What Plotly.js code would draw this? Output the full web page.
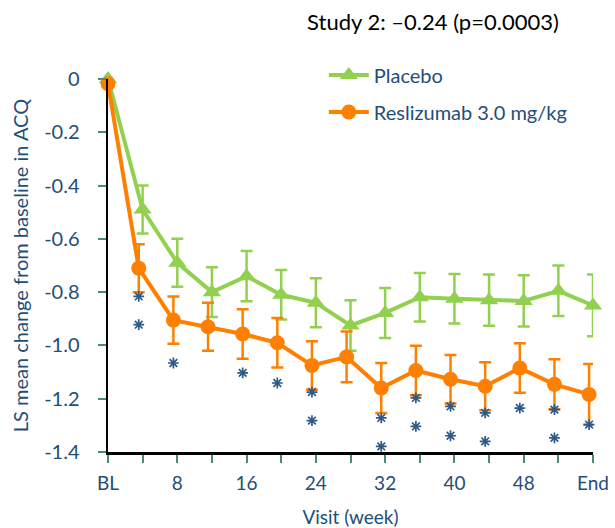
<!DOCTYPE html>
<html>
<head>
<meta charset="utf-8">
<script src="https://cdn.plot.ly/plotly-3.0.1.min.js"></script>
<style>html,body{margin:0;padding:0;background:#fff;} #chart{width:615px;height:528px;}</style>
</head>
<body>
<div id="chart"></div>
<script>
// Visit weeks (BL = 0, End = 56)
var weeks = [0, 4, 8, 12, 16, 20, 24, 28, 32, 36, 40, 44, 48, 52, 56];
var placebo = [0, -0.49, -0.69, -0.80, -0.74, -0.81, -0.84, -0.925, -0.878, -0.819, -0.825, -0.83, -0.833, -0.795, -0.85];
var placeboErr = [0, 0.09, 0.09, 0.093, 0.094, 0.093, 0.092, 0.095, 0.094, 0.091, 0.093, 0.096, 0.096, 0.095, 0.116];
var reslizumab = [-0.018, -0.71, -0.905, -0.93, -0.957, -0.99, -1.075, -1.043, -1.16, -1.094, -1.127, -1.153, -1.085, -1.146, -1.184];
var reslizumabErr = [0, 0.09, 0.089, 0.09, 0.093, 0.093, 0.091, 0.095, 0.094, 0.093, 0.091, 0.09, 0.093, 0.094, 0.114];
// significance asterisks
var starWeeks = [4, 4, 8, 16, 20, 24, 24, 32, 32, 36, 36, 40, 40, 44, 44, 48, 52, 52, 56, 56];
var starVals = [-0.816, -0.922, -1.066, -1.103, -1.141, -1.175, -1.282, -1.272, -1.379, -1.197, -1.304, -1.229, -1.339, -1.253, -1.36, -1.235, -1.241, -1.347, -1.297, -1.41];
var xTickVals = [0, 4, 8, 12, 16, 20, 24, 28, 32, 36, 40, 44, 48, 52, 56];
var xTickText = ["BL", "", "8", "", "16", "", "24", "", "32", "", "40", "", "48", "", "End"];
var yTickVals = [0, -0.2, -0.4, -0.6, -0.8, -1.0, -1.2, -1.4];
var yTickText = ["0", "-0.2", "-0.4", "-0.6", "-0.8", "-1.0", "-1.2", "-1.4"];
var seriesNames = ["Placebo", "Reslizumab 3.0 mg/kg"];
var titleText = "Study 2: \u20130.24 (p=0.0003)";

var shift = 0.45; // reslizumab points drawn slightly left of the visit tick
var reslX = weeks.map(function (w) { return w === 0 ? 0 : w - shift; });
var starX = starWeeks.map(function (w) { return w - shift; });

var textColor = '#1f4e79';
var green = '#92d050';
var orange = '#ff8000';
var starColor = '#2e5a88';
var font = 'Lato, "Open Sans", sans-serif';

var traces = [
  {
    x: weeks, y: placebo, name: seriesNames[0], type: 'scatter', mode: 'lines+markers',
    legendgroup: 'a', cliponaxis: false,
    line: {color: green, width: 4},
    marker: {symbol: 'triangle-up', size: 16, color: green},
    error_y: {type: 'data', array: placeboErr, visible: true, color: green, thickness: 2.5, width: 6}
  },
  {
    x: reslX, y: reslizumab, name: seriesNames[1], type: 'scatter', mode: 'lines+markers',
    legendgroup: 'b', cliponaxis: false,
    line: {color: orange, width: 4},
    marker: {symbol: 'circle', size: 15, color: orange},
    error_y: {type: 'data', array: reslizumabErr, visible: true, color: orange, thickness: 2.5, width: 6}
  },
  {
    x: starX, y: starVals, type: 'scatter', mode: 'markers', showlegend: false, cliponaxis: false,
    marker: {symbol: 'asterisk-open', size: 9, color: starColor, line: {color: starColor, width: 1.7}},
    hoverinfo: 'skip'
  }
];

var layout = {
  width: 615, height: 528,
  margin: {l: 108, r: 22, t: 79, b: 76},
  paper_bgcolor: '#ffffff', plot_bgcolor: '#ffffff',
  font: {family: font, color: textColor, size: 19},
  title: {text: titleText, font: {family: font, size: 22, color: '#000000'}, x: 0.704, xanchor: 'center', y: 0.958, yanchor: 'middle'},
  showlegend: true,
  legend: {x: 0.445, y: 1.063, xanchor: 'left', yanchor: 'top', bgcolor: 'rgba(0,0,0,0)', tracegroupgap: 8,
           font: {family: font, size: 20, color: textColor}, itemwidth: 40},
  xaxis: {
    range: [0, 56], tickmode: 'array', tickvals: xTickVals, ticktext: xTickText,
    showgrid: false, zeroline: false, showline: true, linecolor: '#000000', linewidth: 2.5,
    ticks: 'outside', ticklen: 8, tickwidth: 2, tickcolor: '#4a8a7a', ticklabelstandoff: 5,
    tickfont: {family: font, size: 19, color: textColor},
    title: {text: 'Visit (week)', font: {family: font, size: 19, color: textColor}, standoff: 20}
  },
  yaxis: {
    range: [-1.4, 0], tickmode: 'array', tickvals: yTickVals, ticktext: yTickText,
    showgrid: false, zeroline: false, showline: true, linecolor: '#000000', linewidth: 2.5,
    ticks: 'outside', ticklen: 8, tickwidth: 2, tickcolor: '#4a8a7a', ticklabelstandoff: 14,
    tickfont: {family: font, size: 20, color: textColor},
    title: {text: 'LS mean change from baseline in ACQ', font: {family: font, size: 20, color: textColor}, standoff: 10}
  }
};

Plotly.newPlot('chart', traces, layout, {displayModeBar: false, staticPlot: true});
</script>
</body>
</html>
